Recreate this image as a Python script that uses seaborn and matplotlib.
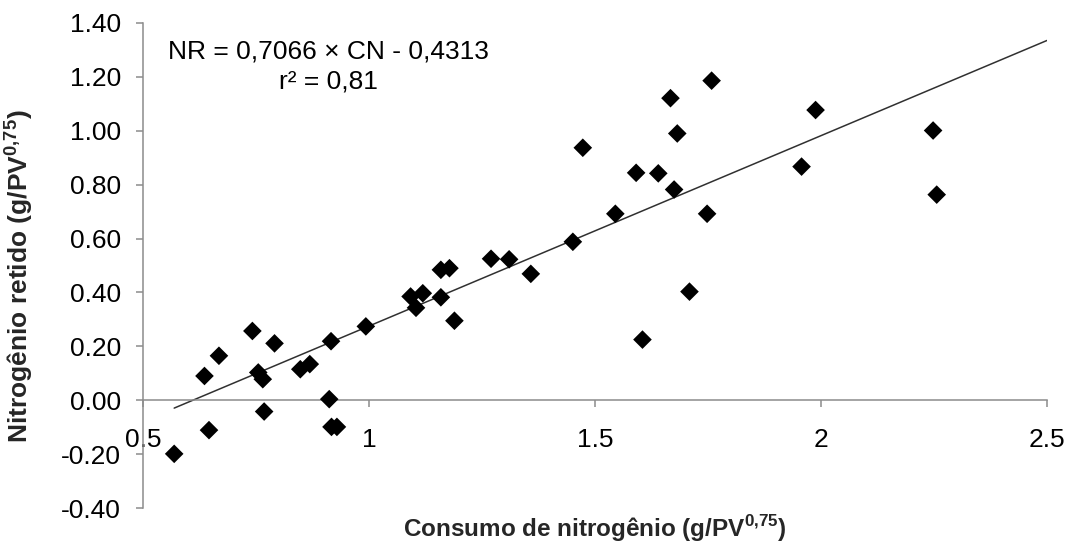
import matplotlib
matplotlib.use("Agg")
import matplotlib.pyplot as plt
import seaborn as sns
import pandas as pd
import numpy as np

# Data
consumo_n = [0.569, 0.636, 0.646, 0.668, 0.742, 0.755, 0.765, 0.768, 0.791, 0.848,
             0.869, 0.912, 0.916, 0.917, 0.929, 0.993, 1.092, 1.104, 1.119, 1.159,
             1.159, 1.178, 1.189, 1.270, 1.310, 1.358, 1.451, 1.473, 1.545, 1.591,
             1.605, 1.640, 1.667, 1.675, 1.682, 1.709, 1.748, 1.758, 1.957, 1.988,
             2.248, 2.256]
n_retido = [-0.199, 0.090, -0.111, 0.165, 0.257, 0.103, 0.078, -0.042, 0.211, 0.115,
            0.134, 0.004, 0.219, -0.099, -0.099, 0.274, 0.385, 0.343, 0.397, 0.484,
            0.382, 0.490, 0.295, 0.525, 0.523, 0.469, 0.588, 0.937, 0.692, 0.844,
            0.225, 0.842, 1.121, 0.782, 0.990, 0.403, 0.692, 1.186, 0.867, 1.077,
            1.001, 0.763]
slope = 0.7066
intercept = -0.4313
x_ticks = [0.5, 1.0, 1.5, 2.0, 2.5]
x_ticklabels = ["0.5", "1", "1.5", "2", "2.5"]
y_ticks = [-0.40, -0.20, 0.00, 0.20, 0.40, 0.60, 0.80, 1.00, 1.20, 1.40]
y_ticklabels = ["-0.40", "-0.20", "0.00", "0.20", "0.40", "0.60", "0.80", "1.00", "1.20", "1.40"]
eq_text = "NR = 0,7066 × CN - 0,4313"
r2_text = "r² = 0,81"

sns.set_theme(style="white")
plt.rcParams['font.family'] = ['Liberation Sans', 'DejaVu Sans']
plt.rcParams['mathtext.fontset'] = 'custom'
plt.rcParams['mathtext.rm'] = 'Liberation Sans'
plt.rcParams['mathtext.bf'] = 'Liberation Sans:bold'

df = pd.DataFrame({"CN": consumo_n, "NR": n_retido})

fig = plt.figure(figsize=(10.69, 5.42), dpi=100)
ax = fig.add_axes([143/1069, 1-508/542, (1047-143)/1069, (508-23)/542])

# regression line
xl = np.array([min(consumo_n), 2.5])
ax.plot(xl, slope*xl + intercept, color="#303030", lw=1.1, zorder=2)

sns.scatterplot(data=df, x="CN", y="NR", marker="D", color="black",
                edgecolor="none", s=90, ax=ax, zorder=3)

ax.set_xlim(0.5, 2.5)
ax.set_ylim(-0.40, 1.40)
ax.set_xticks(x_ticks)
ax.set_xticklabels(x_ticklabels)
ax.set_yticks(y_ticks)
ax.set_yticklabels(y_ticklabels)

for s in ["top", "right"]:
    ax.spines[s].set_visible(False)
ax.spines["bottom"].set_position(("data", 0))
for s in ["left", "bottom"]:
    ax.spines[s].set_color("#8c8c8c")
    ax.spines[s].set_linewidth(1.1)

ax.tick_params(axis="both", colors="#8c8c8c", labelcolor="black",
               labelsize=19, length=5, width=1.1, direction="out")
ax.tick_params(axis="x", pad=15)
ax.tick_params(axis="y", pad=11)
ax.tick_params(left=True, bottom=True)

ax.set_xlabel(r"Consumo de nitrogênio (g/PV$^{\mathbf{0{,}75}}$)",
              fontsize=17.5, fontweight="bold", va="top")
ax.xaxis.set_label_coords(0.5, -0.01)
ax.set_ylabel(r"Nitrogênio retido (g/PV$^{\mathbf{0{,}75}}$)",
              fontsize=19, fontweight="bold")
ax.yaxis.set_label_coords(-0.12, 0.478)

ax.text(0.911, 1.296, eq_text, ha="center", va="center", fontsize=19, color="black")
ax.text(0.911, 1.184, r2_text, ha="center", va="center", fontsize=19, color="black")

fig.savefig("out.png", dpi=100, facecolor="white")
